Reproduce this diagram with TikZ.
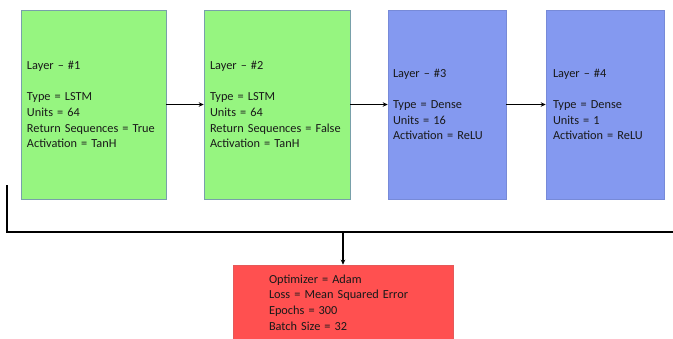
\documentclass[tikz,border=0pt]{standalone}
\usepackage{fontspec}
\setmainfont{Carlito}
\usetikzlibrary{arrows.meta}
\definecolor{lgreen}{RGB}{150,245,128}
\definecolor{lblue}{RGB}{132,153,240}
\definecolor{lred}{RGB}{255,80,80}
\definecolor{bordc}{RGB}{120,160,170}
\tikzset{
  layerbox/.style={draw=bordc, line width=0.6pt, minimum height=189pt, inner xsep=6pt, inner ysep=0pt,
    align=left, font=\fontsize{12.3}{15.6}\selectfont, text=black!90, anchor=center},
  conn/.style={line width=1.7pt, -{Stealth[length=5pt,width=4.5pt]}},
  plain/.style={line width=2pt}
}
\begin{document}
\begin{tikzpicture}[x=1pt,y=-1pt]
\useasboundingbox (0,0) rectangle (673,338);
\node[layerbox, fill=lgreen, minimum width=145pt, text width=133pt] (l1) at (93.5,104.5)
  {Layer -- \#1\\[15.6pt]Type = LSTM\\Units = 64\\Return Sequences = True\\Activation = TanH};
\node[layerbox, fill=lgreen, minimum width=146pt, text width=134pt] (l2) at (277,104.5)
  {Layer -- \#2\\[15.6pt]Type = LSTM\\Units = 64\\Return Sequences = False\\Activation = TanH};
\node[layerbox, fill=lblue, draw=lblue!90!black, minimum width=118pt, text width=108pt, inner xsep=5pt] (l3) at (447,104.5)
  {Layer -- \#3\\[15.6pt]Type = Dense\\Units = 16\\Activation = ReLU};
\node[layerbox, fill=lblue, draw=lblue!90!black, minimum width=118pt, text width=104pt, inner xsep=7pt] (l4) at (605,104.5)
  {Layer -- \#4\\[15.6pt]Type = Dense\\Units = 1\\Activation = ReLU};
\node[layerbox, fill=lred, draw=lred!80!gray, minimum width=220pt, minimum height=75pt, text width=148pt, inner xsep=36pt] (opt) at (343,302.5)
  {Optimizer = Adam\\Loss = Mean Squared Error\\Epochs = 300\\Batch Size = 32};
\draw[conn] (l1.east) -- (l2.west);
\draw[conn] (l2.east) -- (l3.west);
\draw[conn] (l3.east) -- (l4.west);
\coordinate (top) at (7,185);
\coordinate (corner) at (7,232);
\coordinate (rend) at (674,232);
\coordinate (split) at (343,232);
\draw[plain] (top) -- (corner) -- (rend);
\draw[line width=1.3pt, -{Stealth[length=5pt,width=4.5pt]}] (split) -- (opt.north);
\end{tikzpicture}
\end{document}
